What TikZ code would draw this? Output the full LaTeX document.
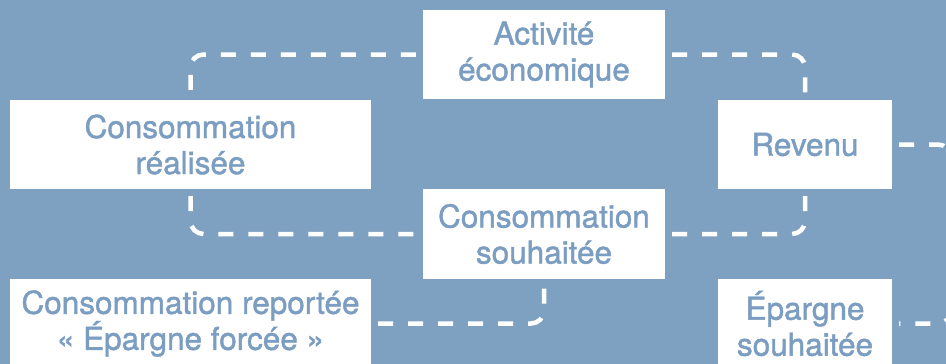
\documentclass[tikz,border=0pt]{standalone}
\usepackage{fontspec}
\setmainfont[FakeBold=0]{TeX Gyre Heros}
\newfontfamily\boxfont[FakeBold=1.3]{TeX Gyre Heros}
\definecolor{bgblue}{RGB}{127,161,193}
\definecolor{txtblue}{RGB}{122,157,193}
\begin{document}
\begin{tikzpicture}[x=1pt,y=-1pt,
  box/.style={fill=white, draw=none, inner sep=0pt, align=center, text=txtblue,
    font=\boxfont\fontsize{31.5}{36}\selectfont},
  link/.style={draw=white, line width=4.5pt, dash pattern=on 15pt off 15pt,
    rounded corners=13pt, shorten <=7pt, shorten >=7pt}]
\fill[bgblue] (0,0) rectangle (946,364);
\useasboundingbox (0,0) rectangle (946,364);
\begin{scope}
\clip (0,0) rectangle (946,364);
\node[box, minimum width=242pt, minimum height=89pt] (act) at (544,54.5) {Activité\\économique\vphantom{é}};
\node[box, minimum width=361pt, minimum height=89pt] (real) at (190.5,144.5) {Consommation\\réalisée};
\node[box, minimum width=174pt, minimum height=89pt] (rev) at (805,144.5) {Revenu};
\node[box, minimum width=242pt, minimum height=90pt] (souh) at (544,234) {Consommation\\souhaitée};
\node[box, minimum width=361pt, minimum height=89pt] (rep) at (190.5,323.5) {Consommation reportée\\« Épargne forcée »};
\node[box, minimum width=174pt, minimum height=89pt] (eps) at (805,323.5) {Épargne\\souhaitée};
\coordinate (rc) at (951,0);
\draw[link] (act.west) -| (real.north);
\draw[link] (act.east) -| (rev.north);
\draw[link] (real.south) |- (souh.west);
\draw[link] (souh.east) -| (rev.south);
\draw[link] (rep.east) -| (souh.south);
\draw[link] (rev.east) -- (rev.east -| rc) -- (eps.east -| rc) -- (eps.east);
\end{scope}
\end{tikzpicture}
\end{document}
